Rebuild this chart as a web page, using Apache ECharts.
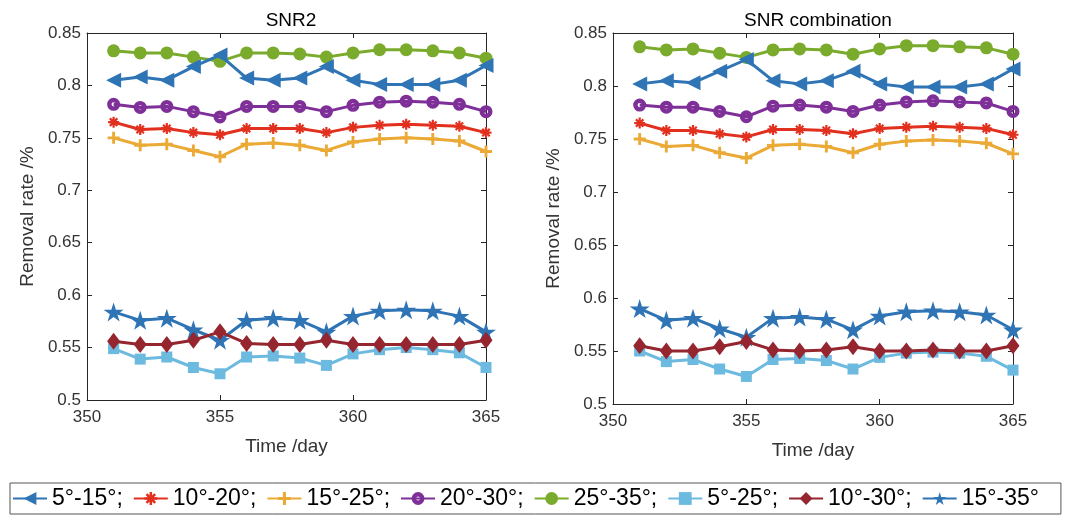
<!DOCTYPE html>
<html>
<head>
<meta charset="utf-8">
<script src="https://cdn.jsdelivr.net/npm/echarts@6/dist/echarts.min.js"></script>
<style>
html,body{margin:0;padding:0;background:#fff;}
#chart{width:1070px;height:519px;}
</style>
</head>
<body>
<div id="chart"></div>
<script>
// ---- Data ----
const days = [351,352,353,354,355,356,357,358,359,360,361,362,363,364,365];
const seriesNames = ['5°-15°;','10°-20°;','15°-25°;','20°-30°;','25°-35°;','5°-25°;','10°-30°;','15°-35°'];
const titles = ['SNR2','SNR combination'];

// SNR2 (left)
const snr2_5_15  = [0.805,0.808,0.805,0.818,0.829,0.807,0.805,0.807,0.818,0.805,0.801,0.801,0.801,0.805,0.819];
const snr2_10_20 = [0.765,0.758,0.759,0.755,0.753,0.759,0.759,0.759,0.755,0.760,0.762,0.763,0.762,0.761,0.755];
const snr2_15_25 = [0.750,0.743,0.744,0.738,0.732,0.744,0.745,0.743,0.738,0.746,0.749,0.750,0.749,0.747,0.737];
const snr2_20_30 = [0.782,0.779,0.780,0.775,0.770,0.780,0.780,0.780,0.775,0.781,0.784,0.785,0.784,0.782,0.775];
const snr2_25_35 = [0.833,0.831,0.831,0.827,0.823,0.831,0.831,0.830,0.827,0.831,0.834,0.834,0.833,0.831,0.826];
const snr2_5_25  = [0.549,0.539,0.541,0.531,0.525,0.541,0.542,0.540,0.533,0.544,0.548,0.550,0.548,0.545,0.531];
const snr2_10_30 = [0.556,0.553,0.553,0.557,0.565,0.554,0.553,0.553,0.557,0.553,0.553,0.553,0.553,0.553,0.557];
const snr2_15_35 = [0.584,0.576,0.578,0.567,0.557,0.576,0.578,0.576,0.565,0.580,0.585,0.586,0.585,0.580,0.565];

// SNR combination (right)
const comb_5_15  = [0.802,0.805,0.803,0.814,0.825,0.805,0.802,0.805,0.814,0.802,0.799,0.799,0.799,0.802,0.816];
const comb_10_20 = [0.765,0.758,0.758,0.755,0.752,0.759,0.759,0.758,0.755,0.760,0.761,0.762,0.761,0.760,0.754];
const comb_15_25 = [0.750,0.743,0.744,0.737,0.732,0.744,0.745,0.743,0.737,0.745,0.748,0.749,0.748,0.746,0.736];
const comb_20_30 = [0.782,0.780,0.780,0.776,0.771,0.781,0.782,0.780,0.776,0.782,0.785,0.786,0.785,0.784,0.776];
const comb_25_35 = [0.837,0.834,0.835,0.831,0.827,0.834,0.835,0.834,0.830,0.835,0.838,0.838,0.837,0.836,0.830];
const comb_5_25  = [0.550,0.540,0.542,0.533,0.526,0.542,0.543,0.541,0.533,0.544,0.548,0.549,0.548,0.545,0.532];
const comb_10_30 = [0.555,0.550,0.550,0.554,0.559,0.551,0.550,0.551,0.554,0.550,0.550,0.551,0.550,0.550,0.555];
const comb_15_35 = [0.590,0.579,0.581,0.571,0.563,0.581,0.582,0.580,0.570,0.583,0.587,0.588,0.587,0.584,0.570];

const yTicks = {min:0.5, max:0.85, interval:0.05};
const xTicks = {min:350, max:365, interval:5};

// ---- Styles ----
const FONT = 'Liberation Sans, Arial, Helvetica, sans-serif';
const AX = '#262626';
const LBL = '#333333';
const colors = ['#2f74b5','#e2301f','#eba935','#7e2f98','#7aab2c','#6cbadf','#952630','#2f74b5'];
const PLUS = 'path://M3.8,0 L6.2,0 L6.2,3.8 L10,3.8 L10,6.2 L6.2,6.2 L6.2,10 L3.8,10 L3.8,6.2 L0,6.2 L0,3.8 L3.8,3.8 Z';
const AST = 'path://M4.0,0 L6.0,0 L6.0,10 L4.0,10 Z M0,4.0 L10,4.0 L10,6.0 L0,6.0 Z M2.3,0.9 L9.1,7.7 L7.7,9.1 L0.9,2.3 Z M7.7,0.9 L9.1,2.3 L2.3,9.1 L0.9,7.7 Z';
const STAR = 'path://M50,0 L61,35 L98,35 L68,57 L79,91 L50,70 L21,91 L32,57 L2,35 L39,35 Z';
const RING = 'path://M0,5 A5,5 0 1,0 10,5 A5,5 0 1,0 0,5 Z M3.4,5 A1.6,1.6 0 1,1 6.6,5 A1.6,1.6 0 1,1 3.4,5 Z';
const markers = [
  {symbol:'triangle', symbolSize:[15,15], symbolRotate:90},
  {symbol:AST, symbolSize:11},
  {symbol:PLUS, symbolSize:12},
  {symbol:RING, symbolSize:13},
  {symbol:'circle', symbolSize:13},
  {symbol:'rect', symbolSize:11},
  {symbol:'diamond', symbolSize:[13,17]},
  {symbol:STAR, symbolSize:[20,19]}
];

const leftData  = [snr2_5_15,snr2_10_20,snr2_15_25,snr2_20_30,snr2_25_35,snr2_5_25,snr2_10_30,snr2_15_35];
const rightData = [comb_5_15,comb_10_20,comb_15_25,comb_20_30,comb_25_35,comb_5_25,comb_10_30,comb_15_35];

function makeSeries(dataArr, gi){
  return dataArr.map((arr,i)=>{
    const m = markers[i];
    const s = {
      name: seriesNames[i], type:'line',
      xAxisIndex: gi*2, yAxisIndex: gi*2,
      data: days.map((d,k)=>[d, arr[k]]),
      symbol: m.symbol, symbolSize: m.symbolSize, showAllSymbol:true,
      lineStyle:{color:colors[i], width:3},
      itemStyle:{color:colors[i]},
      z: 2 + (i===0?6:(i===7?5:i)),
      animation:false
    };
    if (m.symbolRotate) s.symbolRotate = m.symbolRotate;
    return s;
  });
}

function axes(gi){
  const common = {
    axisLine:{show:true, onZero:false, lineStyle:{color:AX, width:1}},
    axisTick:{show:true, inside:true, length:5, lineStyle:{color:AX}},
    splitLine:{show:false}
  };
  const xa = [
    Object.assign({type:'value', gridIndex:gi, position:'bottom', min:xTicks.min, max:xTicks.max, interval:xTicks.interval,
      name:'Time /day', nameLocation:'middle', nameGap: 37,
      nameTextStyle:{fontFamily:FONT, fontSize:19, color:LBL},
      axisLabel:{fontFamily:FONT, fontSize:17, color:LBL, margin:9}}, common),
    Object.assign({type:'value', gridIndex:gi, position:'top', min:xTicks.min, max:xTicks.max, interval:xTicks.interval,
      axisLabel:{show:false}}, common)
  ];
  const ya = [
    Object.assign({type:'value', gridIndex:gi, position:'left', min:yTicks.min, max:yTicks.max, interval:yTicks.interval,
      name:'Removal rate /%', nameLocation:'middle', nameGap: 50,
      nameTextStyle:{fontFamily:FONT, fontSize:19, color:LBL},
      axisLabel:{fontFamily:FONT, fontSize:17, color:LBL, margin:6}}, common),
    Object.assign({type:'value', gridIndex:gi, position:'right', min:yTicks.min, max:yTicks.max, interval:yTicks.interval,
      axisLabel:{show:false}}, common)
  ];
  return {xa, ya};
}

const a0 = axes(0), a1 = axes(1);

const chart = echarts.init(document.getElementById('chart'), null, {renderer:'canvas'});
chart.setOption({
  backgroundColor:'#fff',
  animation:false,
  title:[
    {text:titles[0], left:286, top:6, textAlign:'center', textStyle:{fontFamily:FONT, fontSize:19, fontWeight:'normal', color:'#000'}},
    {text:titles[1], left:813, top:6, textAlign:'center', textStyle:{fontFamily:FONT, fontSize:19, fontWeight:'normal', color:'#000'}}
  ],
  grid:[
    {left:87, right:584, top:33, bottom:119, containLabel:false},
    {left:613, right:57, top:33, bottom:115, containLabel:false}
  ],
  xAxis:[a0.xa[0], a0.xa[1], a1.xa[0], a1.xa[1]],
  yAxis:[a0.ya[0], a0.ya[1], a1.ya[0], a1.ya[1]],
  legend:{
    data: seriesNames,
    left:10, top:483,
    orient:'horizontal',
    itemWidth:34, itemHeight:16, itemGap:10,
    padding:[4,22,4,2],
    borderColor:'#555', borderWidth:1,
    textStyle:{fontFamily:FONT, fontSize:23, color:'#000'},
    selectedMode:false
  },
  series: makeSeries(leftData,0).concat(makeSeries(rightData,1))
});
</script>
</body>
</html>
